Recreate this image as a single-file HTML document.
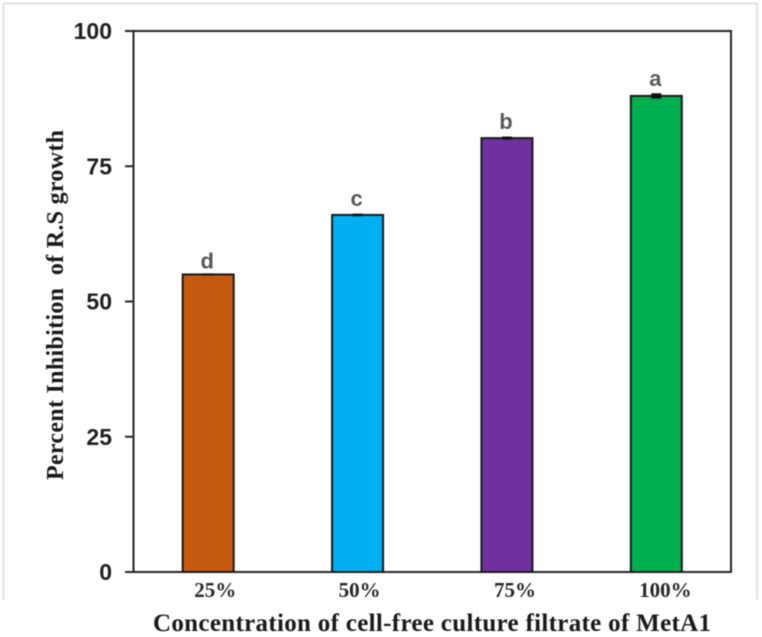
<!DOCTYPE html>
<html>
<head>
<meta charset="utf-8">
<style>
html,body{margin:0;padding:0;background:#fff;}
#wrap{position:relative;width:762px;height:637px;overflow:hidden;background:#fff;}
svg{display:block;filter:blur(0.5px);}
</style>
</head>
<body>
<div id="wrap">
<svg id="chart" width="762" height="637" viewBox="0 0 762 637" xmlns="http://www.w3.org/2000/svg"></svg>
</div>
<script>
const categories = ['25%', '50%', '75%', '100%'];
const values = [55, 66, 80.2, 88];
const errors = [0.1, 0.15, 0.2, 0.4];
const letters = ['d', 'c', 'b', 'a'];
const barColors = ['#c55a11', '#00b0f0', '#7030a0', '#00b050'];
const yTicks = [0, 25, 50, 75, 100];

const svg = document.getElementById('chart');
const NS = 'http://www.w3.org/2000/svg';
const plotLeft = 133.5, plotRight = 731, plotTop = 31, plotBottom = 572;
const yMax = 100, barWidth = 51;
const ink = '#262626';
const labelNudge = [7, 2, 8, 9];
const letterGap = [6, 9, 9, 10];

function yScale(v) { return plotBottom - (v / yMax) * (plotBottom - plotTop); }
function xBand(i) { return plotLeft + (i + 0.5) * (plotRight - plotLeft) / categories.length; }
function make(tag, attrs, text) {
  const el = document.createElementNS(NS, tag);
  for (const k in attrs) el.setAttribute(k, attrs[k]);
  if (text !== undefined) el.textContent = text;
  svg.appendChild(el);
  return el;
}

let el;
el = make('path', { d: 'M3.5 600V3.5H757V600', fill: 'none', stroke: '#e2e2e2', 'stroke-width': 2 });



el = make('rect', { x: plotLeft, y: plotTop, width: plotRight - plotLeft, height: plotBottom - plotTop, fill: '#fff', stroke: ink, 'stroke-width': 2 });



yTicks.forEach(function (t) {
  const y = yScale(t);
  const tick = make('line', { x1: 125, x2: plotLeft, y1: y, y2: y, stroke: ink, 'stroke-width': 2 });
  
  
  const label = make('text', { x: 112, y: y + 8, 'text-anchor': 'end', 'font-family': '"Liberation Sans", sans-serif', 'font-weight': 'bold', 'font-size': 23, fill: '#1f1f1f' }, String(t));
  
  
});

categories.forEach(function (c, i) {
  const cx = xBand(i);
  const top = yScale(values[i]);
  const bar = make('rect', { x: cx - barWidth / 2, y: top, width: barWidth, height: plotBottom - top, fill: barColors[i], stroke: '#1a1a1a', 'stroke-width': 2 });
  
  

  const err = make('rect', { x: cx - 5, y: yScale(values[i] + errors[i]) - 0.5, width: 10, height: yScale(values[i] - errors[i]) - yScale(values[i] + errors[i]) + 1, fill: '#111' });
  
  

  const letter = make('text', { x: cx - 1, y: top - letterGap[i], 'text-anchor': 'middle', 'font-family': '"Liberation Sans", sans-serif', 'font-weight': 'bold', 'font-size': 22, fill: '#595959' }, letters[i]);
  
  

  const label = make('text', { x: cx + labelNudge[i], y: 597, 'text-anchor': 'middle', 'font-family': '"Liberation Serif", serif', 'font-weight': 'bold', 'font-size': 21, fill: '#262626' }, c);
  
  
});

el = make('text', { x: 153, y: 631, textLength: 558, 'font-family': '"Liberation Serif", serif', 'font-weight': 'bold', 'font-size': 25, fill: '#1a1a1a' }, 'Concentration of cell-free culture filtrate of MetA1');



el = make('text', { transform: 'translate(63 480) rotate(-90)', textLength: 350, 'font-family': '"Liberation Serif", serif', 'font-weight': 'bold', 'font-size': 24, fill: '#1a1a1a', style: 'white-space:pre' }, 'Percent Inhibition  of R.S growth');


</script>
</body>
</html>
